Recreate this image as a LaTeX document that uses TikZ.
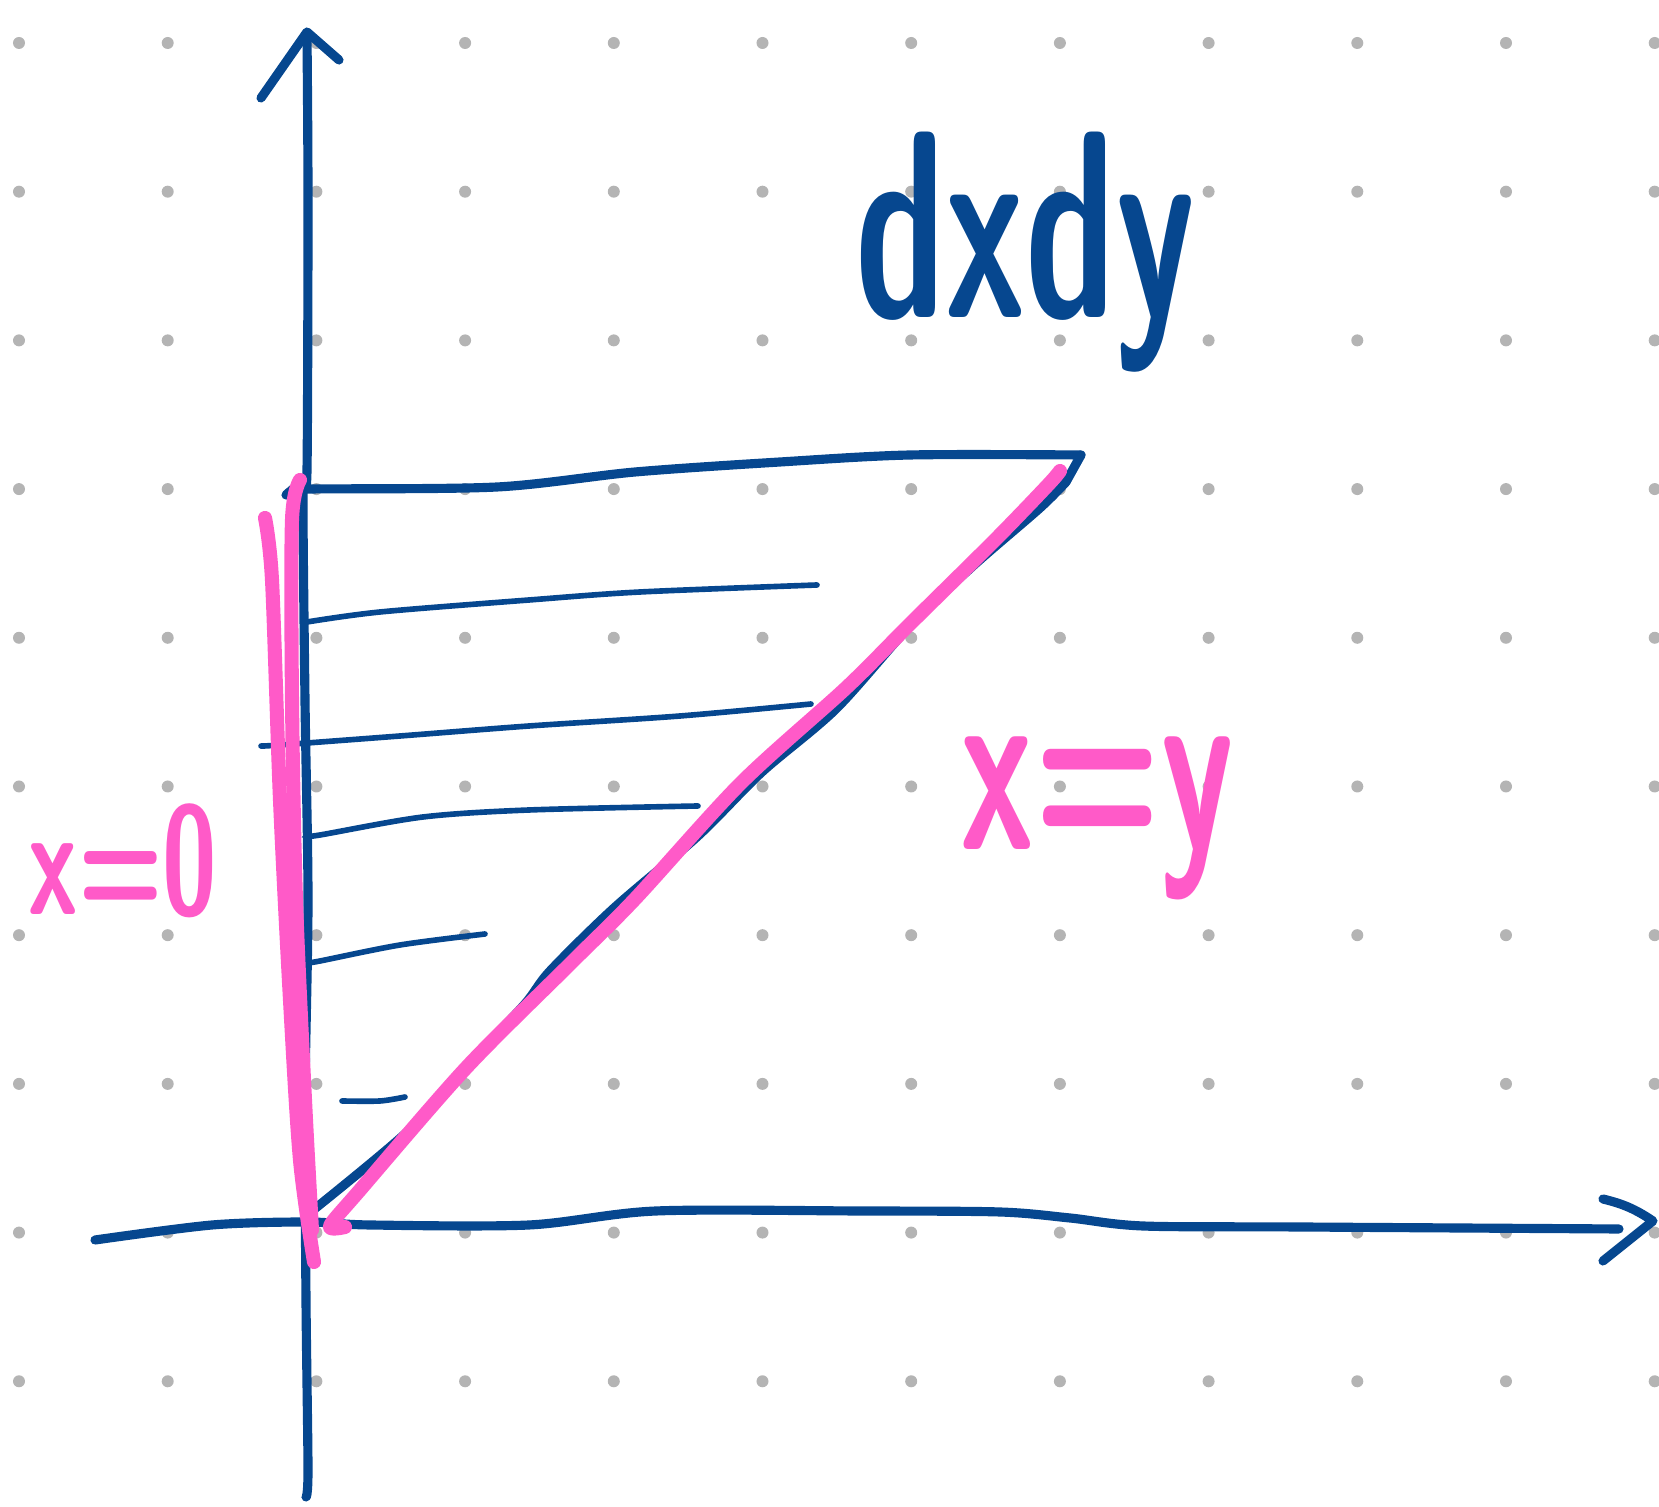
\documentclass[tikz,border=0pt]{standalone}
\usepackage{fontspec}
\usepackage{tikz}
\usetikzlibrary{positioning}
\definecolor{ink}{RGB}{6,71,143}
\definecolor{marker}{RGB}{255,90,200}
\definecolor{dotgray}{RGB}{180,180,180}

\begin{document}
\begin{tikzpicture}[
  x=0.01cm, y=-0.01cm,
  pen/.style={draw=ink, line width=2.6pt, line cap=round, line join=round},
  hatch/.style={draw=ink, line width=1.6pt, line cap=round},
  hilite/.style={draw=marker, line width=4pt, line cap=round, line join=round},
  scrawl/.style={anchor=base west, inner sep=0pt, text=#1}
]
\useasboundingbox (0,0) rectangle (1659,1507);
% dot grid
\foreach \i in {0,...,11}
  \foreach \j in {0,...,9}
    \fill[dotgray] (19+148.7*\i, 43+148.7*\j) circle (0.06cm);

% axes
\coordinate (ytop) at (307,32);
\coordinate (xtip) at (1653,1221);
\draw[pen] plot[smooth] coordinates {(307,36) (308,200) (307,470) (303,490) (305,700) (308,900) (305,1100) (306,1300) (308,1470) (306,1497)};
\draw[pen] (261,98) -- (ytop) -- (339,60);
\draw[pen] plot[smooth] coordinates {(95,1240) (212,1225) (307,1222) (370,1225) (529,1225) (656,1211) (860,1211) (1000,1212) (1070,1218) (1143,1226) (1300,1227) (1619,1229)};
\draw[pen] (1603,1199) to[bend left=10] (xtip) -- (1603,1261);

% region
\draw[pen] plot[smooth] coordinates {(286,495) (293,490) (310,489) (497,487) (635,472) (780,462) (910,455) (1081,455)};
\draw[pen] (1081,455) -- (1066,482);
\draw[pen] plot[smooth] coordinates {(1066,482) (1040,508) (973,566) (910,626) (836,709) (762,772) (698,836) (614,908) (550,971) (524,1005) (466,1066) (407,1132) (307,1215)};

% strips
\draw[hatch] plot[smooth] coordinates {(307,622) (380,612) (529,600) (640,592) (817,585)};
\draw[hatch] plot[smooth] coordinates {(261,746) (280,745) (400,736) (529,726) (680,716) (811,704)};
\draw[hatch] plot[smooth] coordinates {(307,836) (320,835) (423,817) (529,810) (698,806)};
\draw[hatch] plot[smooth] coordinates {(307,963) (320,961) (400,945) (485,934)};
\draw[hatch] plot[smooth] coordinates {(342,1101) (380,1101) (405,1097)};

% bounds
\draw[hilite] plot[smooth] coordinates {(265,518) (272,580) (280,800) (290,1000) (300,1160) (314,1262)};
\draw[hilite] plot[smooth] coordinates {(300,480) (292,520) (292,700) (296,900) (305,1100) (312,1230)};
\draw[hilite] plot[smooth] coordinates {(345,1227) (330,1226) (360,1190) (466,1068) (571,963) (635,899) (741,783) (846,688) (910,624) (995,540) (1048,485) (1060,471)};

% labels
\node[scrawl=ink, font=\sffamily\bfseries\fontsize{76}{76}\selectfont] (dxdy) at (855,318) {\scalebox{0.6}[1]{dxdy}};
\node[scrawl=marker, font=\sffamily\bfseries\fontsize{44}{44}\selectfont] (xzero) at (28,915) {\scalebox{0.64}[1]{x=0}};
\node[scrawl=marker, font=\sffamily\bfseries\fontsize{70}{70}\selectfont] (xeqy) at (960,850) {\scalebox{0.6}[1]{x=y}};
\end{tikzpicture}
\end{document}
